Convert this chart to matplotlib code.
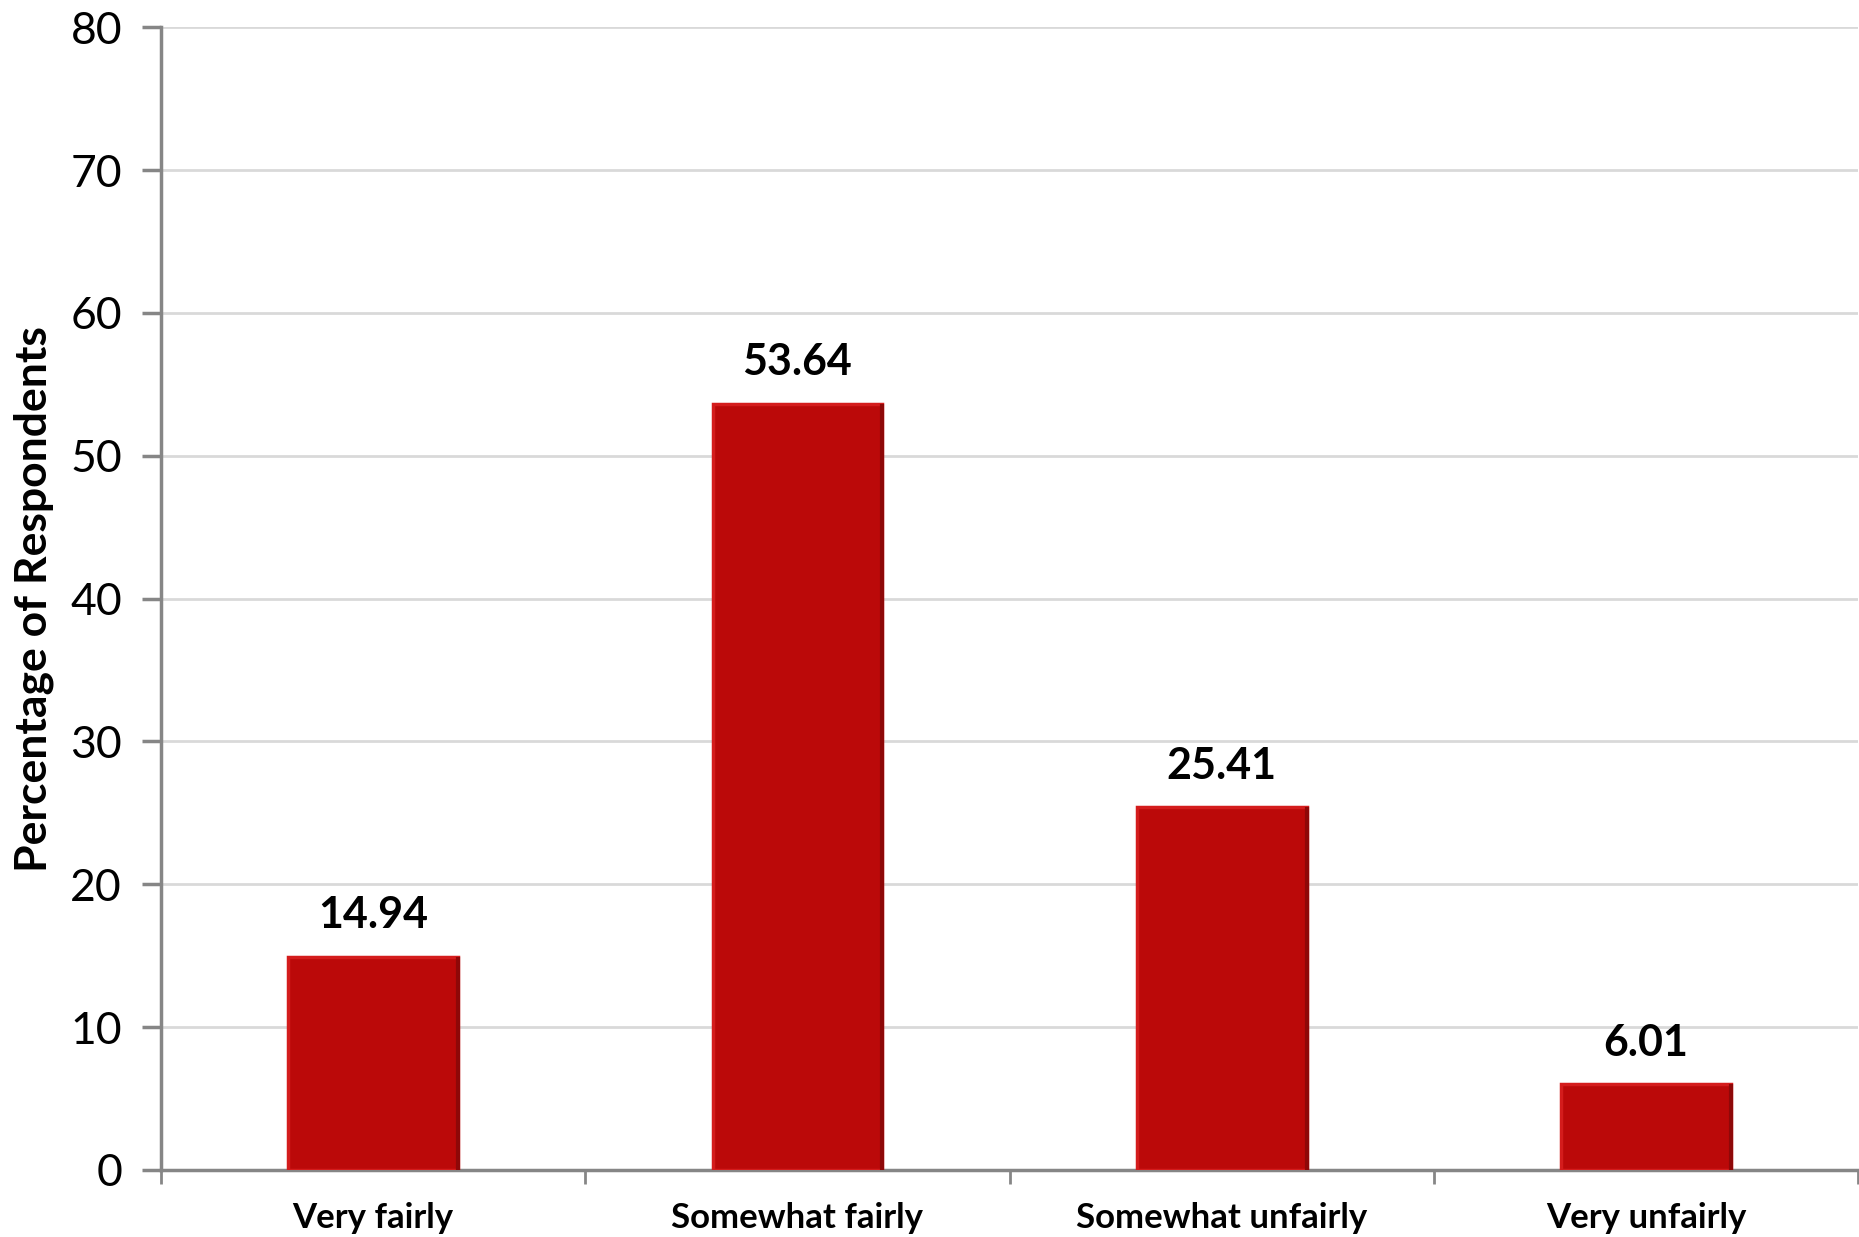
import matplotlib.pyplot as plt
import numpy as np

# Данные
categories = ['Very fairly', 'Somewhat fairly', 'Somewhat unfairly', 'Very unfairly']
values = [14.94, 53.64, 25.41, 6.01]
yticks = [0, 10, 20, 30, 40, 50, 60, 70, 80]

plt.rcParams['font.family'] = ['Lato', 'DejaVu Sans']

fig = plt.figure(figsize=(18.59, 12.37), dpi=100)
ax = fig.add_axes([0.0866, 0.0542, 0.9129, 0.9238])

x = np.arange(len(categories))
bars = ax.bar(x, values, width=0.40, color='#BB0909', edgecolor='#D41C1C',
              linewidth=2.5, zorder=3)

# Тёмная правая грань столбца (эффект объёма)
for b in bars:
    rx = b.get_x() + b.get_width()
    ax.plot([rx, rx], [0, b.get_height()], color='#8E0808', linewidth=3,
            solid_capstyle='butt', zorder=4)

# Подписи значений над столбцами
for xi, v in zip(x, values):
    ax.text(xi, v + 1.5, f'{v:.2f}', ha='center', va='bottom',
            fontsize=31, fontweight='bold', color='black')

ax.set_xlim(-0.5, len(categories) - 0.5)
ax.set_ylim(0, 80)
ax.set_yticks(yticks)
ax.set_yticklabels([str(t) for t in yticks], fontsize=32)
ax.set_xticks(x)
ax.set_xticklabels(categories, fontsize=25, fontweight='bold')
ax.tick_params(axis='x', length=0, pad=23)
ax.tick_params(axis='y', length=14, width=2.5, color='#868686', pad=14)

# Засечки между категориями
ax.set_xticks(np.arange(-0.5, len(categories)), minor=True)
ax.tick_params(axis='x', which='minor', length=10, width=2, color='#868686')

ax.grid(axis='y', color='#D9D9D9', linewidth=2, zorder=0)
ax.set_axisbelow(True)

for side in ['top', 'right']:
    ax.spines[side].set_visible(False)
for side in ['left', 'bottom']:
    ax.spines[side].set_color('#868686')
    ax.spines[side].set_linewidth(2.5)

ax.set_ylabel('Percentage of Respondents', fontsize=32, fontweight='bold', labelpad=12)

fig.savefig('out.png', dpi=100)
